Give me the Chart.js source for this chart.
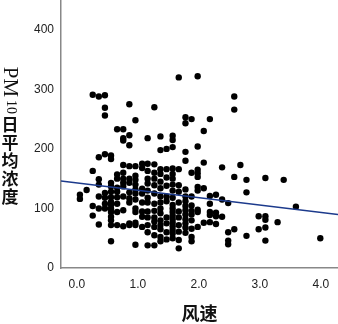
<!DOCTYPE html>
<html>
<head>
<meta charset="utf-8">
<script src="https://cdn.jsdelivr.net/npm/chart.js@4/dist/chart.umd.min.js"></script>
<style>
  html, body { margin: 0; padding: 0; background: #fff; }
  #wrap { width: 338px; height: 324px; }
</style>
</head>
<body>
<div id="wrap"><canvas id="canvas" width="338" height="324"></canvas></div>
<script>
// wind speed levels (x) and the PM10 readings seen at each level (y)
const windLevels = [0.05, 0.16, 0.26, 0.36, 0.46, 0.56, 0.66, 0.76, 0.86, 0.96,
  1.07, 1.16, 1.27, 1.37, 1.47, 1.57, 1.67, 1.78, 1.88, 1.98,
  2.08, 2.18, 2.28, 2.38, 2.48, 2.58, 2.68, 2.78, 2.98, 3.09,
  3.29, 3.39, 3.59, 3.99];
const pm10ByLevel = [
  [123, 116],
  [131],
  [291, 163, 104, 88],
  [288, 186, 149, 140, 120, 100, 73],
  [290, 269, 256, 191, 126, 118, 108, 100],
  [189, 183, 143, 137, 128, 119, 111, 106, 100, 94, 86, 80, 72, 45],
  [233, 157, 150, 135, 128, 119, 108, 94, 72],
  [233, 218, 214, 173, 160, 150, 143, 137, 120, 97, 70],
  [275, 223, 206, 171, 150, 143, 127, 117, 110, 75, 72],
  [248, 171, 155, 148, 140, 132, 125, 115, 100, 94, 76, 72, 39],
  [175, 168, 133, 125, 110, 95, 86, 69],
  [218, 175, 163, 150, 142, 130, 118, 110, 95, 85, 72, 60, 38],
  [270, 174, 160, 150, 139, 125, 108, 96, 85, 78, 69, 55, 38],
  [221, 198, 166, 158, 145, 134, 120, 110, 100, 92, 80, 72, 65, 52, 45],
  [200, 166, 152, 138, 120, 112, 85, 75, 60, 48],
  [222, 215, 203, 167, 158, 150, 140, 130, 118, 106, 100, 94, 88, 82, 76, 70, 64, 58, 50],
  [320, 166, 139, 128, 110, 95, 85, 72, 61, 47, 33],
  [253, 243, 195, 180, 132, 120, 112, 104, 97, 90, 82, 75, 68, 59],
  [250, 160, 120, 105, 96, 90, 80, 66, 52, 45],
  [322, 204, 165, 159, 153, 136, 130, 98, 94, 69],
  [230, 177, 134, 76],
  [250, 121, 108, 94, 89, 77],
  [123, 93, 87, 74],
  [169, 115, 86],
  [109, 60, 46, 40],
  [288, 266, 153, 65],
  [173],
  [148, 127, 54],
  [87, 65],
  [151, 87, 81, 68, 46],
  [77],
  [148],
  [103],
  [50]
];
// least squares line: [intercept, slope]
const fitLine = [143, -12.4];
const xTickValues = [0, 1, 2, 3, 4];
const yTickValues = [0, 100, 200, 300, 400];
const xTitle = '风速';
const yTitleLatin = 'PM';
const yTitleSub = '10';
const yTitleCjk = ['日', '平', '均', '浓', '度'];

const X_MIN = -0.26, X_MAX = 4.28, Y_MIN = 0, Y_MAX = 450;

const points = [];
windLevels.forEach((w, i) => {
  pm10ByLevel[i].forEach(v => points.push({ x: w, y: v }));
});
const linePts = [X_MIN, X_MAX].map(x => ({ x: x, y: fitLine[0] + fitLine[1] * x }));

// axis titles: x centred, y written vertically (PM10 turned, hanzi upright)
const titles = {
  id: 'titles',
  afterDraw(chart) {
    const ctx = chart.ctx;
    const a = chart.chartArea;
    ctx.save();
    ctx.fillStyle = '#111';
    ctx.textAlign = 'center';
    ctx.textBaseline = 'middle';
    ctx.font = 'bold 18px "Noto Sans CJK SC"';
    ctx.fillText(xTitle, (a.left + a.right) / 2, 313);

    const cx = 10;
    ctx.save();
    ctx.translate(cx, 82);
    ctx.rotate(Math.PI / 2);
    ctx.font = '21px "Liberation Serif"';
    ctx.fillText(yTitleLatin, 0, 0);
    ctx.restore();
    ctx.save();
    ctx.translate(cx + 1, 107);
    ctx.rotate(Math.PI / 2);
    ctx.font = '14px "Liberation Serif"';
    ctx.fillText(yTitleSub, 0, 0);
    ctx.restore();

    ctx.font = 'bold 17px "Noto Sans CJK SC"';
    yTitleCjk.forEach((ch, i) => ctx.fillText(ch, cx, 125 + i * 18));
    ctx.restore();
  }
};

const noPad = s => { s.paddingTop = 0; s.paddingBottom = 0; s.paddingLeft = 0; s.paddingRight = 0; };

new Chart(document.getElementById('canvas'), {
  type: 'scatter',
  data: {
    datasets: [
      {
        type: 'line',
        data: linePts,
        borderColor: '#1c3a8c',
        borderWidth: 1.5,
        pointRadius: 0,
        fill: false,
        order: 0
      },
      {
        data: points,
        backgroundColor: '#000',
        borderColor: '#000',
        borderWidth: 0,
        pointRadius: 3.2,
        order: 1
      }
    ]
  },
  options: {
    responsive: false,
    animation: false,
    layout: { padding: 0, autoPadding: false },
    plugins: { legend: { display: false }, tooltip: { enabled: false } },
    scales: {
      x: {
        type: 'linear',
        min: X_MIN,
        max: X_MAX,
        afterBuildTicks: s => { s.ticks = xTickValues.map(v => ({ value: v })); },
        afterFit: s => { s.height = 56; noPad(s); },
        grid: { display: false, drawTicks: false },
        border: { display: true, color: '#888', width: 1.5 },
        ticks: {
          padding: 9,
          color: '#222',
          font: { family: '"Liberation Sans"', size: 12 },
          callback: v => v.toFixed(1)
        }
      },
      y: {
        min: Y_MIN,
        max: Y_MAX,
        afterBuildTicks: s => { s.ticks = yTickValues.map(v => ({ value: v })); },
        afterFit: s => { s.width = 61; noPad(s); },
        grid: { display: false, drawTicks: false },
        border: { display: true, color: '#888', width: 1.5 },
        ticks: {
          padding: 7,
          color: '#222',
          font: { family: '"Liberation Sans"', size: 12 }
        }
      }
    }
  },
  plugins: [titles]
});
</script>
</body>
</html>
